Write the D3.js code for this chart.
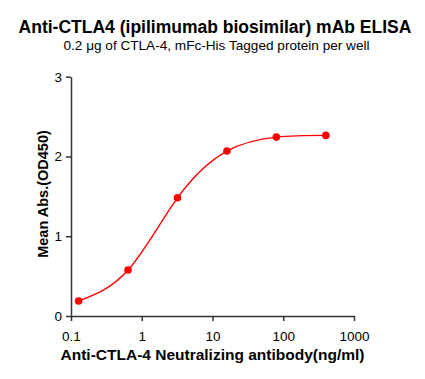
<!DOCTYPE html>
<html><head><meta charset="utf-8">
<script src="https://cdn.jsdelivr.net/npm/d3@7"></script>
<style>body{margin:0;background:#fff}svg{display:block}text{font-family:"Liberation Sans",Arial,sans-serif}</style>
</head><body>
<svg id="c" width="425" height="379"></svg>
<script>
const concentrations = [0.128, 0.64, 3.2, 16, 80, 400];
const meanAbs = [0.188, 0.576, 1.482, 2.068, 2.243, 2.264];
const xTicks = [0.1, 1, 10, 100, 1000];
const xTickLabels = ["0.1", "1", "10", "100", "1000"];
const yTicks = [0, 1, 2, 3];

const svg = d3.select("#c");
const x = d3.scaleLog().domain([0.1, 1000]).range([71, 354]);
const y = d3.scaleLinear().domain([0, 3]).range([316, 76.7]);

svg.append("text").attr("x", 215).attr("y", 33).attr("text-anchor", "middle")
  .attr("font-weight", "bold").attr("font-size", 17.5).text("Anti-CTLA4 (ipilimumab biosimilar) mAb ELISA");
svg.append("text").attr("x", 216.5).attr("y", 50).attr("text-anchor", "middle")
  .attr("font-size", 13.6).text("0.2 μg of CTLA-4, mFc-His Tagged protein per well");

const xAxis = d3.axisBottom(x).tickValues(xTicks).tickFormat((d, i) => xTickLabels[i]).tickSize(5).tickPadding(10).tickSizeOuter(0);
const gx = svg.append("g").attr("transform", "translate(0,316)").call(xAxis);
const yAxis = d3.axisLeft(y).tickValues(yTicks).tickFormat(d3.format("d")).tickSize(5).tickPadding(4).tickSizeOuter(0);
const gy = svg.append("g").attr("transform", "translate(71,0)").call(yAxis);
[gx, gy].forEach(g => {
  g.selectAll("path,line").attr("stroke", "#333").attr("stroke-width", 1.5);
  g.selectAll("text").attr("font-size", 13.5).attr("fill", "#000").attr("font-family", "Liberation Sans, Arial, sans-serif");
});

const line = d3.line().x((d, i) => x(concentrations[i])).y(d => y(d)).curve(d3.curveNatural);
svg.append("path").datum(meanAbs).attr("d", line).attr("fill", "none").attr("stroke", "#ff0000").attr("stroke-width", 1.4);
svg.selectAll("circle.pt").data(meanAbs).enter().append("circle").attr("class", "pt")
  .attr("cx", (d, i) => x(concentrations[i])).attr("cy", d => y(d)).attr("r", 3.8).attr("fill", "#ff0000");

svg.append("text").attr("x", 212.5).attr("y", 360).attr("text-anchor", "middle")
  .attr("font-weight", "bold").attr("font-size", 15.5).text("Anti-CTLA-4 Neutralizing antibody(ng/ml)");
svg.append("text").attr("transform", "translate(48,194) rotate(-90)").attr("text-anchor", "middle")
  .attr("font-weight", "bold").attr("font-size", 14.5).text("Mean Abs.(OD450)");
</script></body></html>
